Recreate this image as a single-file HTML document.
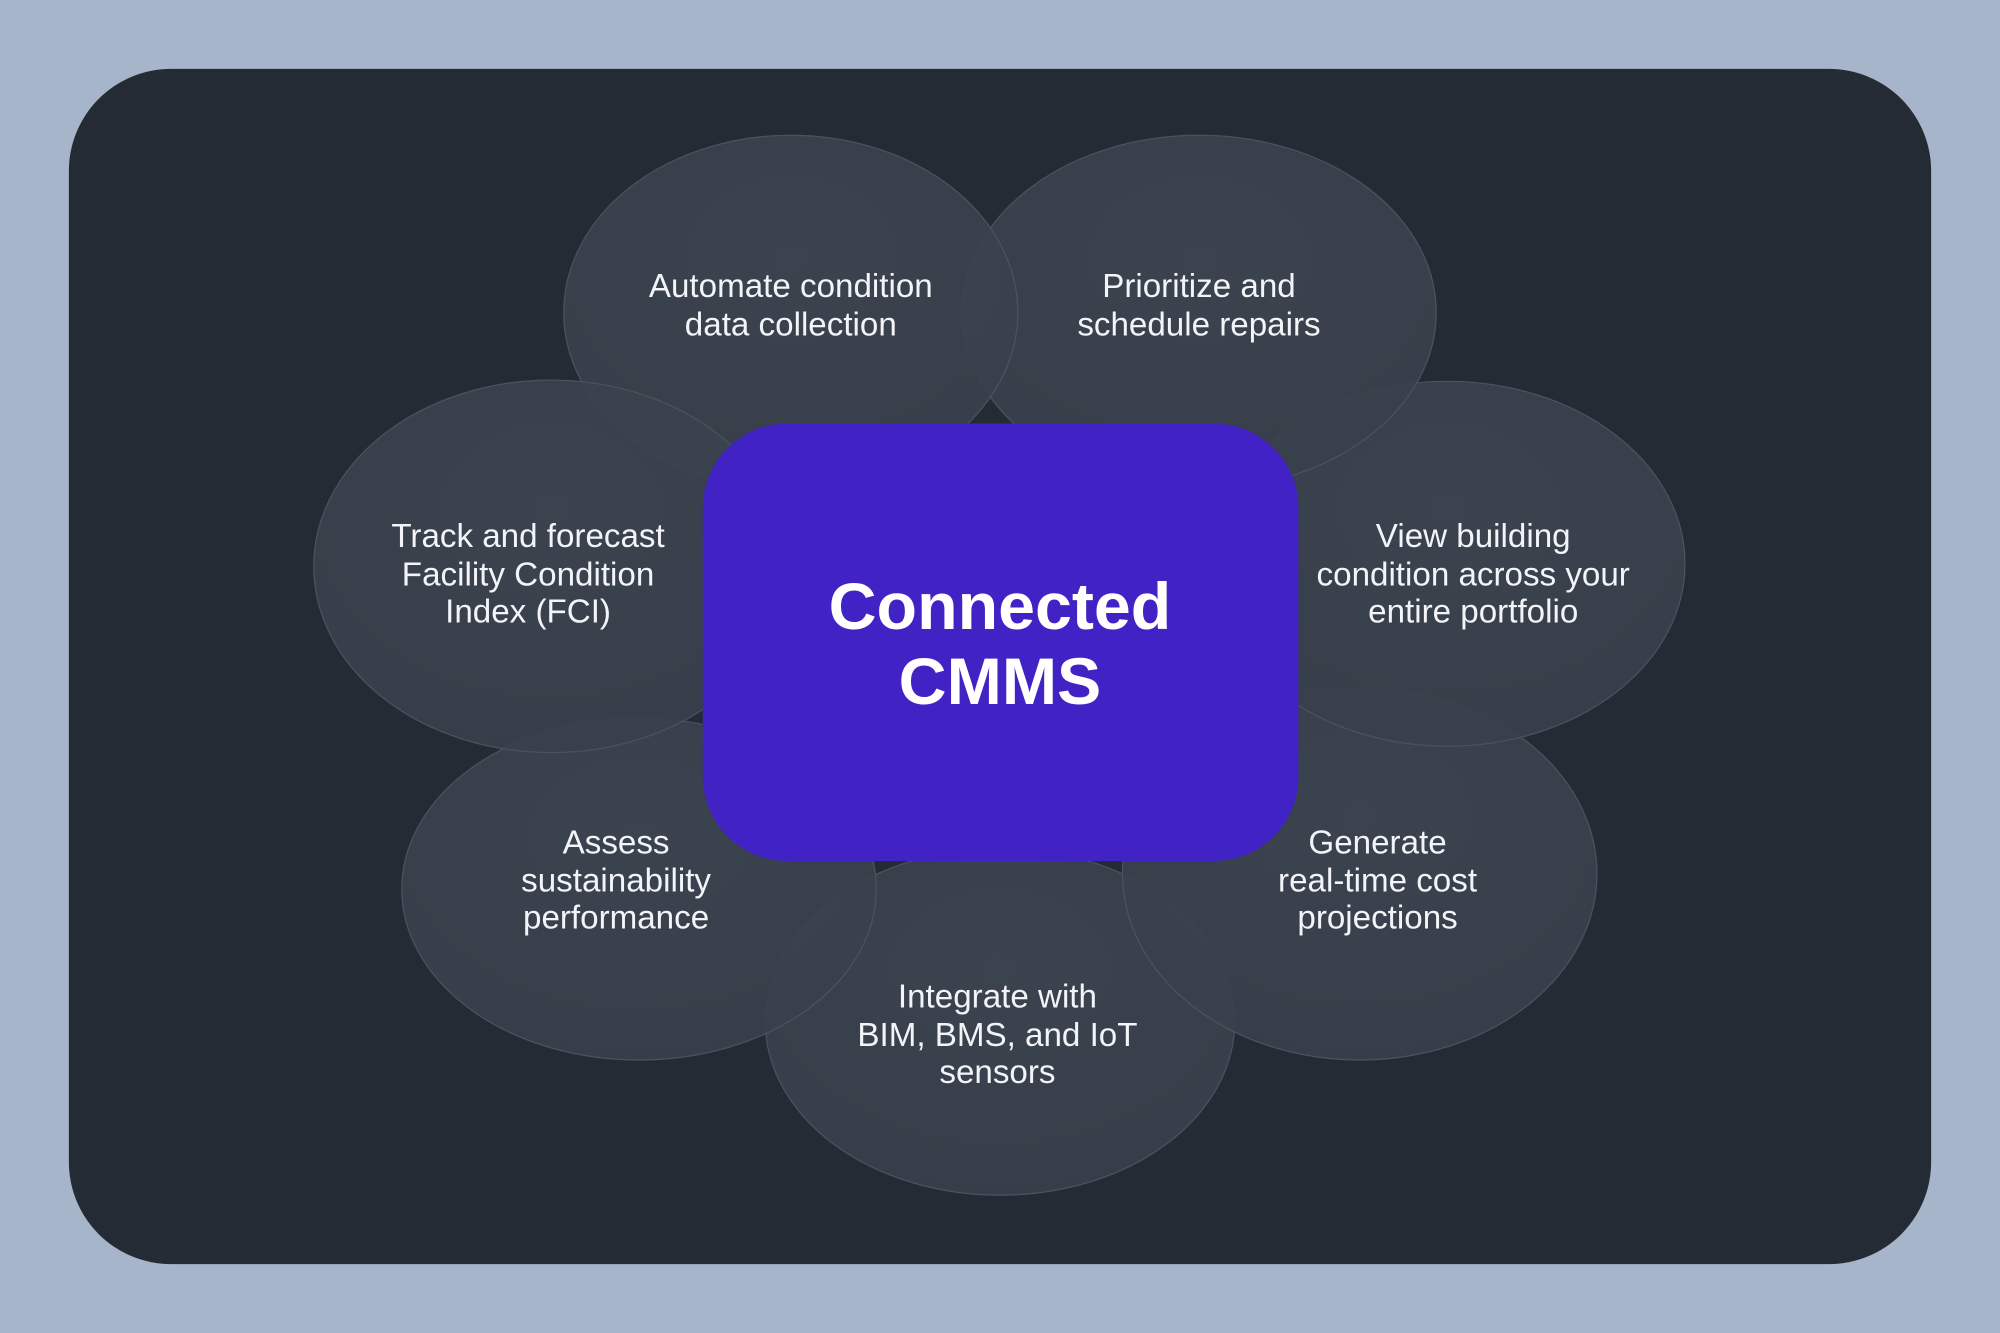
<!DOCTYPE html>
<html><head><meta charset="utf-8"><style>
html,body{margin:0;padding:0;background:#a6b5c9;}
svg{display:block;}
text{font-family:"Liberation Sans",Arial,sans-serif;fill:#f2f4f7;}
</style></head><body>
<svg width="2000" height="1333" viewBox="0 0 1568 1045" xmlns="http://www.w3.org/2000/svg">
<defs>
<radialGradient id="g" cx="50%" cy="35%" r="65%">
<stop offset="0" stop-color="#3d4551"/>
<stop offset="1" stop-color="#38404b"/>
</radialGradient>
</defs>
<rect x="0" y="0" width="1568" height="1045" fill="#a6b5c9"/>
<rect x="54" y="54" width="1460" height="937" rx="80" fill="#252b35"/>
<g fill="url(#g)" fill-opacity="0.92" stroke="#4a525e" stroke-width="1">
<ellipse cx="784" cy="801" rx="184" ry="136"/>
<ellipse cx="1066" cy="685" rx="186" ry="146"/>
<ellipse cx="1135" cy="442" rx="186" ry="143"/>
<ellipse cx="940" cy="245" rx="186" ry="139"/>
<ellipse cx="620" cy="245" rx="178" ry="139"/>
<ellipse cx="501" cy="697" rx="186" ry="134"/>
<ellipse cx="432" cy="444" rx="186" ry="146"/>
</g>
<rect x="551" y="332" width="467" height="343" rx="66" fill="#4122c4"/>
<g font-size="26" text-anchor="middle">
<text x="620" y="233">Automate condition</text>
<text x="620" y="263">data collection</text>
<text x="940" y="233">Prioritize and</text>
<text x="940" y="263">schedule repairs</text>
<text x="414" y="429">Track and forecast</text>
<text x="414" y="459">Facility Condition</text>
<text x="414" y="488">Index (FCI)</text>
<text x="1155" y="429">View building</text>
<text x="1155" y="459">condition across your</text>
<text x="1155" y="488">entire portfolio</text>
<text x="483" y="669">Assess</text>
<text x="483" y="699">sustainability</text>
<text x="483" y="728">performance</text>
<text x="1080" y="669">Generate</text>
<text x="1080" y="699">real-time cost</text>
<text x="1080" y="728">projections</text>
<text x="782" y="790">Integrate with</text>
<text x="782" y="820">BIM, BMS, and IoT</text>
<text x="782" y="849">sensors</text>
</g>
<g font-size="52" font-weight="bold" text-anchor="middle">
<text x="784" y="493" style="fill:#ffffff">Connected</text>
<text x="784" y="552" style="fill:#ffffff">CMMS</text>
</g>
</svg>
</body></html>
